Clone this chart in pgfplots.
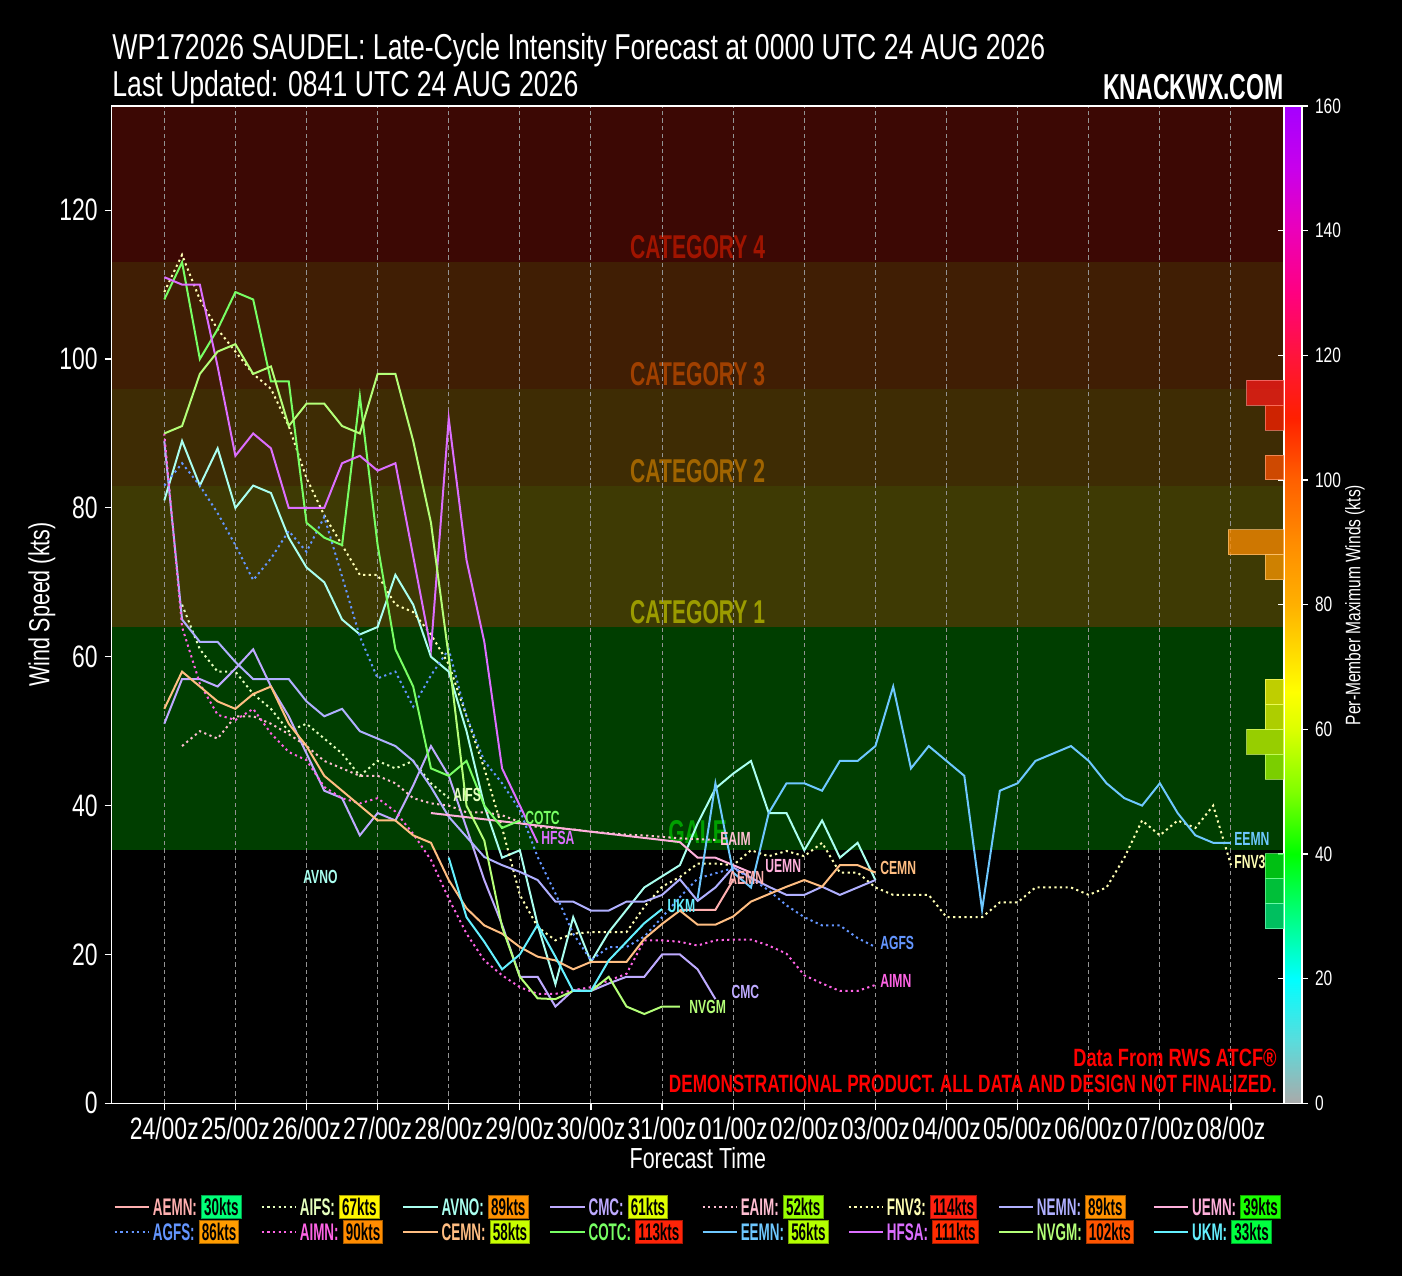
\documentclass[border=0pt]{standalone}
\usepackage{pgfplots}
\pgfplotsset{compat=1.18}
\usepackage{fontspec}
\setmainfont{Liberation Sans}[FakeStretch=0.74]
\newfontfamily\bcf{Liberation Sans}[FakeStretch=0.64]
\newfontfamily\lgf{Liberation Sans}[FakeStretch=0.56]
% series colours
\definecolor{cAEMN}{HTML}{FFB0B0}
\definecolor{cAGFS}{HTML}{6496FF}
\definecolor{cAIFS}{HTML}{E6FFBE}
\definecolor{cAIMN}{HTML}{FF64E6}
\definecolor{cAVNO}{HTML}{AAFFF0}
\definecolor{cCEMN}{HTML}{FFBE82}
\definecolor{cCMC}{HTML}{BEAAFF}
\definecolor{cCOTC}{HTML}{78FF64}
\definecolor{cEAIM}{HTML}{FFBED2}
\definecolor{cEEMN}{HTML}{6EC8FF}
\definecolor{cFNV3}{HTML}{FFFFB4}
\definecolor{cHFSA}{HTML}{DC6EFF}
\definecolor{cNEMN}{HTML}{B0B0FF}
\definecolor{cNVGM}{HTML}{B4FF78}
\definecolor{cUEMN}{HTML}{FFB0DC}
\definecolor{cUKM}{HTML}{64F0FF}
% legend box colours
\definecolor{kAEMN}{HTML}{00FF78}
\definecolor{kAIFS}{HTML}{FFF500}
\definecolor{kAVNO}{HTML}{FF9100}
\definecolor{kCMC}{HTML}{E0FF00}
\definecolor{kEAIM}{HTML}{99FF00}
\definecolor{kFNV3}{HTML}{FF2010}
\definecolor{kNEMN}{HTML}{FF9100}
\definecolor{kUEMN}{HTML}{1AFF00}
\definecolor{kAGFS}{HTML}{FF9C00}
\definecolor{kAIMN}{HTML}{FF8C00}
\definecolor{kCEMN}{HTML}{C8FF00}
\definecolor{kCOTC}{HTML}{FF2408}
\definecolor{kEEMN}{HTML}{B4FF00}
\definecolor{kHFSA}{HTML}{FF2C00}
\definecolor{kNVGM}{HTML}{FF5500}
\definecolor{kUKM}{HTML}{00FF40}
% bands
\definecolor{bCat4}{RGB}{60,8,4}
\definecolor{bCat3}{RGB}{64,30,4}
\definecolor{bCat2}{RGB}{62,44,4}
\definecolor{bCat1}{RGB}{62,58,4}
\definecolor{bGale}{RGB}{0,62,0}
\definecolor{tCat4}{RGB}{160,20,0}
\definecolor{tCat3}{RGB}{160,64,0}
\definecolor{tCat2}{RGB}{160,100,0}
\definecolor{tCat1}{RGB}{155,155,0}
\definecolor{tGale}{RGB}{0,160,0}
% histogram colours
\definecolor{h114}{HTML}{FF1B18}
\definecolor{h110}{HTML}{FF2000}
\definecolor{h102}{HTML}{FF5300}
\definecolor{h90}{HTML}{FF8C00}
\definecolor{h86}{HTML}{FF9A00}
\definecolor{h66}{HTML}{FFFF00}
\definecolor{h62}{HTML}{E8FF00}
\definecolor{h58}{HTML}{CAFF00}
\definecolor{h54}{HTML}{A5FF00}
\definecolor{h38}{HTML}{00FF1A}
\definecolor{h34}{HTML}{00FF4D}
\definecolor{h30}{HTML}{00FF80}
\setlength{\fboxsep}{1.1pt}
\setlength{\fboxrule}{0.5pt}
\newcommand{\lent}[4]{\textcolor{#1}{#2:}\hspace{2pt}\fcolorbox{#3!65!black}{#3}{\textcolor{black}{#4kts}}}
\pgfplotsset{
  /pgf/number format/assume math mode=true,
  colorbar shift/.style={xshift=0pt},
  sol/.style={line width=1pt, color=#1, mark=none},
  dts/.style={line width=1pt, color=#1, mark=none, dash pattern=on 1.1pt off 1.7pt},
  band/.style={draw=none, fill=#1},
  hbar/.style={fill=#1, fill opacity=0.75, draw=#1!55!white, draw opacity=0.7, line width=0.5pt},
  frame/.style={at={(55.85pt,86.35pt)}, anchor=south west, width=586.15pt, height=498.65pt, scale only axis},
}
\newcommand{\slab}[4]{\node[anchor=west, inner sep=0pt, text=#1, font=\bcf\bfseries\fontsize{9.5}{10}\selectfont] at (axis cs:#2,#3) {#4};}
\newcommand{\blab}[3]{\node[anchor=center, inner sep=0pt, text=#1, font=\bcf\bfseries\fontsize{16.5}{17}\selectfont] at (axis cs:180,#2) {#3};}
\begin{document}
\begin{tikzpicture}
\fill[black] (0pt,0pt) rectangle (701pt,638pt);
\useasboundingbox (0pt,0pt) rectangle (701pt,638pt);
% titles
\node[anchor=base west, inner sep=0pt, text=white, font=\fontsize{18}{20}\selectfont] at (56pt,608.4pt) {WP172026 SAUDEL: Late-Cycle Intensity Forecast at 0000 UTC 24 AUG 2026};
\node[anchor=base west, inner sep=0pt, text=white, font=\fontsize{18}{20}\selectfont] at (56pt,589.5pt) {Last Updated: 0841 UTC 24 AUG 2026};
\node[anchor=base east, inner sep=0pt, text=white, font=\bcf\bfseries\fontsize{18}{20}\selectfont] at (642pt,588pt) {KNACKWX.COM};
% background intensity bands
\begin{axis}[frame, hide axis, xmin=-17.75, xmax=377.9, ymin=0, ymax=134]
\addplot[band=bCat4] coordinates {(-17.75,113) (377.9,113) (377.9,134) (-17.75,134)} --cycle;
\addplot[band=bCat3] coordinates {(-17.75,96) (377.9,96) (377.9,113) (-17.75,113)} --cycle;
\addplot[band=bCat2] coordinates {(-17.75,83) (377.9,83) (377.9,96) (-17.75,96)} --cycle;
\addplot[band=bCat1] coordinates {(-17.75,64) (377.9,64) (377.9,83) (-17.75,83)} --cycle;
\addplot[band=bGale] coordinates {(-17.75,34) (377.9,34) (377.9,64) (-17.75,64)} --cycle;
\blab{tCat4}{115.0}{CATEGORY 4}
\blab{tCat3}{98.0}{CATEGORY 3}
\blab{tCat2}{85.0}{CATEGORY 2}
\blab{tCat1}{66.0}{CATEGORY 1}
\blab{tGale}{36.4}{GALE}
\end{axis}
\begin{axis}[
  frame,
  xmin=-17.75, xmax=377.9, ymin=0, ymax=134,
  xtick={0,24,...,360},
  xticklabels={24/00z,25/00z,26/00z,27/00z,28/00z,29/00z,30/00z,31/00z,01/00z,02/00z,03/00z,04/00z,05/00z,06/00z,07/00z,08/00z},
  ytick={0,20,...,120},
  xtick pos=bottom, ytick pos=left,
  xmajorgrids,
  grid style={color=gray!85, line width=0.5pt, dash pattern=on 2.2pt off 1.6pt},
  axis line style={white, line width=0.6pt},
  tick style={white, line width=0.6pt},
  tick align=outside, major tick length=3.5pt,
  ticklabel style={text=white, font=\fontsize{15.5}{16}\selectfont},
  xlabel={Forecast Time}, ylabel={Wind Speed (kts)},
  xlabel style={at={(axis description cs:0.5,-0.0548)}, anchor=center, text=white, font=\fontsize{14.5}{15}\selectfont},
  ylabel style={at={(axis description cs:-0.0595,0.5)}, anchor=center, text=white, font=\fontsize{14.5}{15}\selectfont},
  colormap={knack}{rgb255(0pt)=(170,170,170) rgb255(10pt)=(90,220,220) rgb255(20pt)=(0,255,255) rgb255(30pt)=(0,255,128) rgb255(40pt)=(0,255,0) rgb255(50pt)=(128,255,0) rgb255(60pt)=(220,255,0) rgb255(66pt)=(255,255,0) rgb255(80pt)=(255,176,0) rgb255(90pt)=(255,140,0) rgb255(100pt)=(255,96,0) rgb255(110pt)=(255,32,0) rgb255(120pt)=(255,20,60) rgb255(130pt)=(255,0,128) rgb255(140pt)=(235,0,185) rgb255(150pt)=(200,0,235) rgb255(160pt)=(165,0,255)},
  colorbar, point meta min=0, point meta max=160,
  colorbar shift/.style={xshift=0pt},
  colorbar style={
    at={(parent axis.north east)}, anchor=north west,
    width=9pt,
    ytick={0,20,...,160},
    yticklabel style={text=white, font=\fontsize{10.5}{11}\selectfont},
    axis line style={white, line width=0.6pt},
    tick style={white, line width=0.6pt},
    major tick length=3pt, tick align=outside,
  },
  legend style={at={(0.5,0)}, anchor=north, yshift=-45pt, fill=black, draw=none, text=white,
    font=\lgf\bfseries\fontsize{12}{13}\selectfont, legend columns=8,
    /tikz/every even column/.append style={column sep=9pt},
    /tikz/every odd column/.append style={column sep=1pt},
    nodes={inner sep=0.5pt},
    inner sep=0pt, row sep=0pt},
  legend cell align=left,
]
% series (legend order, row-wise)
\addplot[sol=cAEMN] coordinates {(174,26)(180,26)(186,26)(192,30)};
\addlegendentry{\lent{cAEMN}{AEMN}{kAEMN}{30}}
\addplot[dts=cAIFS] coordinates {(6,67)(12,61)(18,58)(24,58)(30,55)(36,53)(42,50)(48,51)(54,49)(60,47)(66,44)(72,46)(78,45)(84,46)(90,43)(96,41)};
\addlegendentry{\lent{cAIFS}{AIFS}{kAIFS}{67}}
\addplot[sol=cAVNO] coordinates {(0,81)(6,89)(12,83)(18,88)(24,80)(30,83)(36,82)(42,76)(48,72)(54,70)(60,65)(66,63)(72,64)(78,71)(84,67)(90,60)(96,58)(102,50)(108,40)(114,33)(120,34)(126,24)(132,16)(138,25)(144,19)(150,23)(156,26)(162,29)(168,30.5)(174,32)(180,37.6)(186,42.3)(192,44.3)(198,46)(204,39)(210,39)(216,34)(222,38)(228,33)(234,35)(240,30)};
\addlegendentry{\lent{cAVNO}{AVNO}{kAVNO}{89}}
\addplot[sol=cCMC] coordinates {(0,51)(6,57)(12,57)(18,56)(24,58.4)(30,61)(36,56)(42,52)(48,47)(54,42)(60,41)(66,36)(72,39)(78,38)(84,42.7)(90,48)(96,44)(102,37)(108,30)(114,24)(120,17)(126,17)(132,13)(138,15.2)(144,15.1)(150,16.1)(156,17)(162,17)(168,20)(174,20)(180,18)(186,14)};
\addlegendentry{\lent{cCMC}{CMC}{kCMC}{61}}
\addplot[dts=cEAIM] coordinates {(6,48)(12,50)(18,49)(24,52)(30,52)(36,51)(42,49.6)(48,48)(54,46)(60,45)(66,44)(72,44)(78,43)(84,41)(90,40.3)(96,40)(102,39.1)(108,39.1)(114,38.7)(120,37.8)(126,37.1)(132,37)(138,36.8)(144,36.5)(150,36.3)(156,36.1)(162,36)(168,35.8)(174,35.6)(180,35.5)(186,35.4)};
\addlegendentry{\lent{cEAIM}{EAIM}{kEAIM}{52}}
\addplot[dts=cFNV3] coordinates {(0,109)(6,114)(12,108)(18,104)(24,101)(30,98)(36,96)(42,91)(48,84)(54,79)(60,75)(66,71)(72,71)(78,67)(84,66)(90,63)(96,59)(102,52)(108,45)(114,37)(120,28)(126,23.7)(132,21.9)(138,22.8)(144,23)(150,23)(156,23)(162,26.4)(168,29.1)(174,30.4)(180,32.2)(186,32.2)(192,32)(198,34)(204,33.2)(210,33.9)(216,33.2)(222,35)(228,31)(234,31)(240,29)(246,28)(252,28)(258,28)(264,25)(270,25)(276,25)(282,27)(288,27)(294,29)(300,29)(306,29)(312,28)(318,29)(324,33)(330,38)(336,36)(342,38)(348,37)(354,40)(360,32)};
\addlegendentry{\lent{cFNV3}{FNV3}{kFNV3}{114}}
\addplot[sol=cNEMN] coordinates {(0,89)(6,65)(12,62)(18,62)(24,59.3)(30,57)(36,57)(42,57)(48,54)(54,52)(60,53)(66,50)(72,49)(78,48)(84,46)(90,42.5)(96,38.5)(102,35.8)(108,33.1)(114,32)(120,31.1)(126,30)(132,27.1)(138,27.1)(144,25.9)(150,25.9)(156,27.1)(162,27.1)(168,28)(174,30.1)(180,27.2)(186,29)(192,31.7)(198,30.3)(204,29.1)(210,28)(216,28)(222,29.1)(228,28)(234,29)(240,30)};
\addlegendentry{\lent{cNEMN}{NEMN}{kNEMN}{89}}
\addplot[sol=cUEMN] coordinates {(90,39)(174,35.1)(180,33)(186,33)(192,32)(198,31)};
\addlegendentry{\lent{cUEMN}{UEMN}{kUEMN}{39}}
\addplot[dts=cAGFS] coordinates {(0,83)(6,86)(12,83)(18,79.3)(24,75)(30,70.3)(36,73.2)(42,76.9)(48,74.1)(54,78.8)(60,70.8)(66,62.7)(72,57.1)(78,58)(84,53.3)(90,57.5)(96,61)(102,52)(108,46)(114,43)(120,39.4)(126,33.1)(132,28.2)(138,22.8)(144,19.2)(150,21)(156,21)(162,22.4)(168,25)(174,27.7)(180,30.2)(186,30.9)(192,31.6)(198,30.2)(204,28.6)(210,26.6)(216,25)(222,23.9)(228,23.9)(234,22.2)(240,21)};
\addlegendentry{\lent{cAGFS}{AGFS}{kAGFS}{86}}
\addplot[dts=cAIMN] coordinates {(0,90)(6,64)(12,56.4)(18,52.2)(24,51.5)(30,53)(36,49.7)(42,47.2)(48,46.1)(54,42.5)(60,41)(66,40.3)(72,41)(78,39.2)(84,36.2)(90,32.7)(96,27.5)(102,22.8)(108,19.2)(114,17.2)(120,15.6)(126,14.7)(132,14.7)(138,15.2)(144,15.6)(150,16.5)(156,17.4)(162,21.9)(168,21.9)(174,21.7)(180,21.2)(186,21.9)(192,22)(198,22)(204,21.2)(210,20.1)(216,17.2)(222,16.1)(228,15.1)(234,15.1)(240,15.9)};
\addlegendentry{\lent{cAIMN}{AIMN}{kAIMN}{90}}
\addplot[sol=cCEMN] coordinates {(0,53)(6,58)(12,56)(18,54)(24,53)(30,55)(36,56)(42,51)(48,48)(54,44)(60,42)(66,40)(72,38)(78,38)(84,36)(90,35)(96,30)(102,26.2)(108,23.9)(114,22.8)(120,21)(126,19.7)(132,19.2)(138,18)(144,19)(150,19)(156,19)(162,22.1)(168,24.1)(174,25.9)(180,24)(186,24)(192,25.1)(198,27.1)(204,28.1)(210,29.1)(216,30)(222,29.1)(228,32)(234,32)(240,31)};
\addlegendentry{\lent{cCEMN}{CEMN}{kCEMN}{58}}
\addplot[sol=cCOTC] coordinates {(0,108)(6,113)(12,100)(18,104)(24,109)(30,108)(36,97)(42,97)(48,78)(54,76)(60,75)(66,95)(72,75)(78,61)(84,56)(90,45)(96,44)(102,46)(108,40)(114,37)(120,38)};
\addlegendentry{\lent{cCOTC}{COTC}{kCOTC}{113}}
\addplot[sol=cEEMN] coordinates {(180,27.5)(186,43)(192,31)(198,29)(204,39)(210,43)(216,43)(222,42)(228,46)(234,46)(240,48)(246,56)(252,45)(258,48)(264,46)(270,44)(276,26)(282,42)(288,43)(294,46)(300,47)(306,48)(312,46)(318,43)(324,41)(330,40)(336,43)(342,39)(348,36)(354,35)(360,35)};
\addlegendentry{\lent{cEEMN}{EEMN}{kEEMN}{56}}
\addplot[sol=cHFSA] coordinates {(0,111)(6,110)(12,110)(18,99)(24,87)(30,90)(36,88)(42,80)(48,80)(54,80)(60,86)(66,87)(72,85)(78,86)(84,73.5)(90,61)(96,92)(102,73)(108,62)(114,45)(120,40)(126,35)};
\addlegendentry{\lent{cHFSA}{HFSA}{kHFSA}{111}}
\addplot[sol=cNVGM] coordinates {(0,90)(6,91)(12,98)(18,101)(24,102)(30,98)(36,99)(42,91)(48,94)(54,94)(60,91)(66,90)(72,98)(78,98)(84,89)(90,78)(96,60)(102,40)(108,35.3)(114,23.7)(120,17)(126,14.1)(132,14)(138,15.1)(144,15.1)(150,17)(156,13)(162,12)(168,13)(174,13)};
\addlegendentry{\lent{cNVGM}{NVGM}{kNVGM}{102}}
\addplot[sol=cUKM] coordinates {(96,33)(102,25)(108,21.7)(114,18)(120,20)(126,24)(132,19.7)(138,15.1)(144,15.1)(150,19.2)(156,21.7)(162,24.2)(168,26.1)};
\addlegendentry{\lent{cUKM}{UKM}{kUKM}{33}}
% series end labels
\slab{cAVNO}{46.8}{30.4}{AVNO}
\slab{cAIFS}{97.4}{41.4}{AIFS}
\slab{cCOTC}{121.7}{38.3}{COTC}
\slab{cHFSA}{127.1}{35.6}{HFSA}
\slab{cEAIM}{187.5}{35.5}{EAIM}
\slab{cAEMN}{190.2}{30.3}{AEMN}
\slab{cUEMN}{202.7}{31.9}{UEMN}
\slab{cCEMN}{241.5}{31.6}{CEMN}
\slab{cUKM}{169.7}{26.5}{UKM}
\slab{cAGFS}{241.5}{21.5}{AGFS}
\slab{cAIMN}{241.5}{16.5}{AIMN}
\slab{cCMC}{191.3}{14.9}{CMC}
\slab{cNVGM}{177.1}{13.0}{NVGM}
\slab{cEEMN}{361}{35.5}{EEMN}
\slab{cFNV3}{361}{32.4}{FNV3}
\end{axis}
% histogram of per-member maxima, on the colour-bar scale
\begin{axis}[frame, hide axis, x dir=reverse, xmin=0, xmax=63.0, ymin=0, ymax=160]
\addplot[hbar=h114] coordinates {(0,112)(2,112)(2,116)(0,116)} --cycle;
\addplot[hbar=h110] coordinates {(0,108)(1,108)(1,112)(0,112)} --cycle;
\addplot[hbar=h102] coordinates {(0,100)(1,100)(1,104)(0,104)} --cycle;
\addplot[hbar=h90] coordinates {(0,88)(3,88)(3,92)(0,92)} --cycle;
\addplot[hbar=h86] coordinates {(0,84)(1,84)(1,88)(0,88)} --cycle;
\addplot[hbar=h66] coordinates {(0,64)(1,64)(1,68)(0,68)} --cycle;
\addplot[hbar=h62] coordinates {(0,60)(1,60)(1,64)(0,64)} --cycle;
\addplot[hbar=h58] coordinates {(0,56)(2,56)(2,60)(0,60)} --cycle;
\addplot[hbar=h54] coordinates {(0,52)(1,52)(1,56)(0,56)} --cycle;
\addplot[hbar=h38] coordinates {(0,36)(1,36)(1,40)(0,40)} --cycle;
\addplot[hbar=h34] coordinates {(0,32)(1,32)(1,36)(0,36)} --cycle;
\addplot[hbar=h30] coordinates {(0,28)(1,28)(1,32)(0,32)} --cycle;
\end{axis}
% colour-bar label and notes
\node[rotate=90, anchor=center, inner sep=0pt, text=white, font=\fontsize{10.5}{11}\selectfont] at (677.5pt,335.5pt) {Per-Member Maximum Winds (kts)};
\node[anchor=base east, inner sep=0pt, text=red, font=\bcf\bfseries\fontsize{12.5}{13}\selectfont] at (638.5pt,105pt) {\scalebox{1.14}[1]{Data From RWS ATCF®}};
\node[anchor=base east, inner sep=0pt, text=red, font=\bcf\bfseries\fontsize{12.5}{13}\selectfont] at (638.5pt,92pt) {\scalebox{1.075}[1]{DEMONSTRATIONAL PRODUCT. ALL DATA AND DESIGN NOT FINALIZED.}};
\end{tikzpicture}
\end{document}
